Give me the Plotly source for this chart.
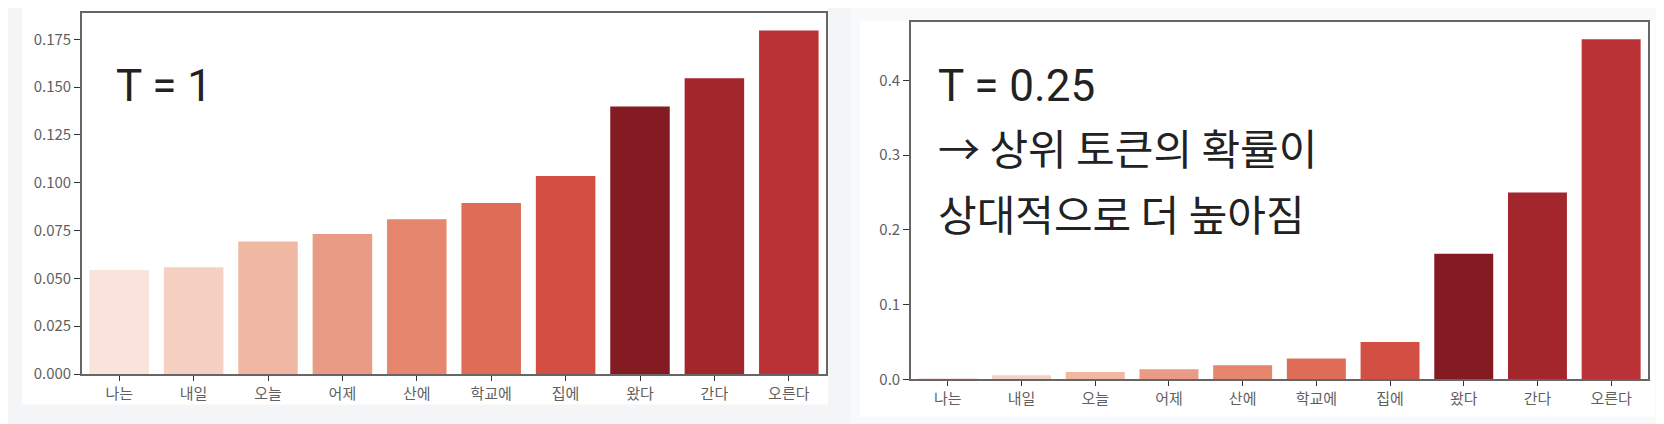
import plotly.graph_objects as go

tokens = ["나는", "내일", "오늘", "어제", "산에", "학교에", "집에", "왔다", "간다", "오른다"]
probs_t1 = [0.0544, 0.0558, 0.0693, 0.0732, 0.0809, 0.0894, 0.1035, 0.1399, 0.1546, 0.1796]
probs_t025 = [0.002, 0.0056, 0.010, 0.0135, 0.019, 0.028, 0.050, 0.168, 0.250, 0.455]
bar_colors = ["#f9e3dc", "#f4d1c3", "#f0b8a2", "#ea9b85", "#e6866c",
              "#df6c56", "#d34f44", "#841b23", "#a2262c", "#ba3235"]
left_ticks = [0.0, 0.025, 0.05, 0.075, 0.1, 0.125, 0.15, 0.175]
right_ticks = [0.0, 0.1, 0.2, 0.3, 0.4]
left_title = "T = 1"
right_lines = ["T = 0.25", "→ 상위 토큰의 확률이", "상대적으로 더 높아짐"]

W, H = 1664, 424
def px(x): return x / W
def py(y): return 1 - y / H

fig = go.Figure()
fig.add_trace(go.Bar(x=tokens, y=probs_t1, marker=dict(color=bar_colors, line=dict(width=0)),
                     xaxis="x", yaxis="y", showlegend=False))
fig.add_trace(go.Bar(x=tokens, y=probs_t025, marker=dict(color=bar_colors, line=dict(width=0)),
                     xaxis="x2", yaxis="y2", showlegend=False))

tickfont = dict(family="Noto Sans CJK KR", size=15, color="#5f5f5f")
axis_common = dict(showline=True, linecolor="#666666", linewidth=1.6, mirror=True,
                   ticks="outside", tickcolor="#333333", tickwidth=1.4,
                   showgrid=False, zeroline=False, tickfont=tickfont, fixedrange=True)

fig.update_layout(
    width=W, height=H,
    margin=dict(l=0, r=0, t=0, b=0),
    paper_bgcolor="#f4f5f7",
    plot_bgcolor="white",
    bargap=0.2,
    xaxis=dict(domain=[px(74), px(818)], anchor="y", range=[-0.5, 9.5], ticklen=5, **axis_common),
    yaxis=dict(domain=[py(374), py(5)], anchor="x", range=[0, 0.1888], tickvals=left_ticks,
               tickformat=".3f", ticklen=6, **axis_common),
    xaxis2=dict(domain=[px(903), px(1640)], anchor="y2", range=[-0.5, 9.5], ticklen=5, **axis_common),
    yaxis2=dict(domain=[py(379.5), py(14.3)], anchor="x2", range=[0, 0.478], tickvals=right_ticks,
                tickformat=".1f", ticklen=6, **axis_common),
    shapes=[
        dict(type="rect", xref="paper", yref="paper", x0=px(14), x1=px(820), y0=py(405), y1=py(0),
             fillcolor="white", line=dict(width=0), layer="below"),
        dict(type="rect", xref="paper", yref="paper", x0=px(843), x1=px(1664), y0=py(424), y1=py(0),
             fillcolor="#f8f9fa", line=dict(width=0), layer="below"),
        dict(type="rect", xref="paper", yref="paper", x0=px(852), x1=px(1647), y0=py(417), y1=py(13),
             fillcolor="white", line=dict(width=0), layer="below"),
    ],
)

latin_font = dict(family="Roboto, Noto Sans CJK KR", size=44, color="#222222")
kr_font = dict(family="Noto Sans CJK KR", size=42, color="#222222")
annots = [dict(text=left_title, x=px(106), y=py(80), xref="paper", yref="paper",
               xanchor="left", yanchor="middle", showarrow=False, font=latin_font)]
centers = [80, 141, 209]
fonts = [latin_font, kr_font, kr_font]
for line, cy, f in zip(right_lines, centers, fonts):
    annots.append(dict(text=line, x=px(928), y=py(cy), xref="paper", yref="paper",
                       xanchor="left", yanchor="middle", showarrow=False, font=f))
fig.update_layout(annotations=annots)

fig.write_html("out.html")
